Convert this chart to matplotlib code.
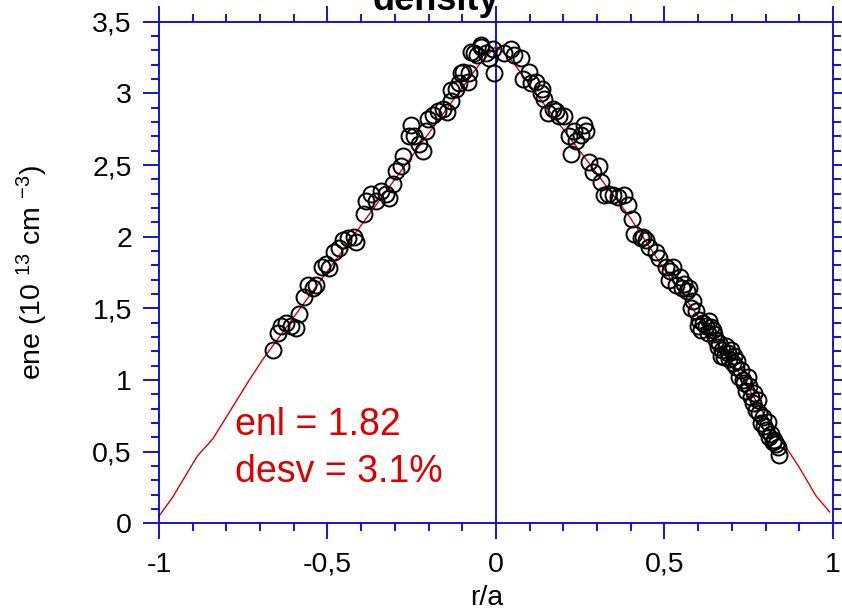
import matplotlib
matplotlib.use('Agg')
import matplotlib.pyplot as plt
from matplotlib.ticker import FixedLocator, FixedFormatter, MultipleLocator

plt.rcParams['font.family'] = ['Liberation Sans', 'DejaVu Sans']
plt.rcParams['mathtext.fontset'] = 'custom'
plt.rcParams['mathtext.rm'] = 'Liberation Sans'
plt.rcParams['mathtext.it'] = 'Liberation Sans:italic'
plt.rcParams['mathtext.default'] = 'regular'

# ---- data ----
left_r = [-0.663, -0.648, -0.638, -0.623, -0.608, -0.593, -0.584, -0.569, -0.559, -0.544,
          -0.534, -0.515, -0.504, -0.495, -0.480, -0.465, -0.455, -0.440, -0.420, -0.415,
          -0.391, -0.386, -0.371, -0.356, -0.341, -0.326, -0.317, -0.307, -0.297, -0.282,
          -0.277, -0.257, -0.252, -0.242, -0.228, -0.218, -0.208, -0.203, -0.188, -0.173,
          -0.158, -0.144, -0.134, -0.134, -0.119, -0.109, -0.104, -0.084, -0.079, -0.064,
          -0.045, -0.030, -0.020, -0.005, -0.010, -0.074, -0.099, -0.045, -0.055]
left_n = [1.21, 1.325, 1.38, 1.395, 1.38, 1.36, 1.46, 1.58, 1.66, 1.64,
          1.66, 1.79, 1.81, 1.78, 1.89, 1.92, 1.98, 1.99, 2.00, 1.96,
          2.16, 2.25, 2.30, 2.25, 2.32, 2.30, 2.27, 2.37, 2.46, 2.49,
          2.56, 2.70, 2.78, 2.70, 2.65, 2.60, 2.74, 2.82, 2.85, 2.88,
          2.89, 2.87, 2.95, 3.02, 3.03, 3.07, 3.14, 3.08, 3.14, 3.28,
          3.32, 3.28, 3.25, 3.14, 3.31, 3.29, 3.15, 3.34, 3.27]

right_r = [0.025, 0.045, 0.054, 0.074, 0.079, 0.099, 0.104, 0.119, 0.134, 0.138,
           0.143, 0.153, 0.168, 0.178, 0.188, 0.203, 0.218, 0.223, 0.232, 0.237,
           0.252, 0.262, 0.267, 0.277, 0.287, 0.307, 0.312, 0.321, 0.331, 0.346,
           0.361, 0.381, 0.391, 0.405, 0.410, 0.430, 0.435, 0.445, 0.455, 0.475,
           0.485, 0.504, 0.514, 0.524, 0.534, 0.559, 0.574, 0.579, 0.593, 0.598,
           0.608, 0.623, 0.638, 0.648, 0.658, 0.672, 0.687, 0.697, 0.702, 0.712,
           0.722, 0.737, 0.747, 0.742, 0.757, 0.766, 0.772, 0.781, 0.786, 0.801,
           0.811, 0.826, 0.836, 0.841,
           0.515, 0.545, 0.553, 0.566, 0.585, 0.603, 0.615, 0.628, 0.633, 0.643,
           0.652, 0.662, 0.668, 0.678, 0.683, 0.692, 0.706, 0.716, 0.727, 0.732,
           0.752, 0.762, 0.776, 0.792, 0.796, 0.806, 0.816, 0.831, 0.821]
right_n = [3.28, 3.31, 3.27, 3.25, 3.10, 3.15, 3.07, 3.08, 3.00, 3.03,
           2.96, 2.86, 2.89, 2.88, 2.84, 2.84, 2.70, 2.58, 2.74, 2.67,
           2.71, 2.78, 2.74, 2.52, 2.45, 2.49, 2.38, 2.29, 2.30, 2.29,
           2.28, 2.29, 2.22, 2.12, 2.02, 1.99, 2.00, 1.98, 1.93, 1.89,
           1.85, 1.79, 1.70, 1.79, 1.66, 1.67, 1.64, 1.50, 1.48, 1.38,
           1.35, 1.38, 1.37, 1.32, 1.23, 1.21, 1.19, 1.21, 1.12, 1.09,
           1.02, 0.98, 1.02, 0.92, 0.88, 0.91, 0.79, 0.77, 0.70, 0.65,
           0.60, 0.58, 0.53, 0.48,
           1.76, 1.72, 1.64, 1.62, 1.55, 1.42, 1.40, 1.33, 1.41, 1.35,
           1.28, 1.26, 1.17, 1.16, 1.24, 1.15, 1.17, 1.13, 1.07, 1.00,
           0.96, 0.84, 0.86, 0.74, 0.68, 0.71, 0.62, 0.55, 0.57]

fit_r = [-1.0, -0.96, -0.886, -0.84, -0.732, -0.693, -0.5, -0.3, -0.15, -0.05, 0.0,
         0.04, 0.128, 0.277, 0.396, 0.514, 0.623, 0.722, 0.811, 0.846, 0.861, 0.90, 0.95, 0.99]
fit_n = [0.05, 0.18, 0.47, 0.59, 1.0, 1.14, 1.76, 2.40, 2.88, 3.20, 3.33,
         3.25, 2.97, 2.51, 2.14, 1.72, 1.37, 1.05, 0.70, 0.58, 0.53, 0.39, 0.19, 0.08]

x_ticks = [-1, -0.5, 0, 0.5, 1]
x_tick_labels = ['-1', '-0,5', '0', '0,5', '1']
y_ticks = [0, 0.5, 1, 1.5, 2, 2.5, 3, 3.5]
y_tick_labels = ['0', '0,5', '1', '1,5', '2', '2,5', '3', '3,5']

title_text = 'density'
xlabel_text = 'r/a'
ylabel_text = r'ene (10 $^{13}$ cm $^{-3}$)'
note1 = 'enl = 1.82'
note2 = 'desv = 3.1%'

BLUE = '#0000dd'
RED = '#dd0000'

fig = plt.figure(figsize=(8.42, 6.13), dpi=100)
ax = fig.add_axes([0.1888, 0.1463, 0.8005, 0.8183])

ax.plot(fit_r, fit_n, color=RED, lw=1.0, zorder=2)
ax.plot(left_r + right_r, left_n + right_n, ls='none', marker='o', ms=11.5,
        mfc='none', mec='black', mew=1.4, zorder=3)
ax.axvline(0, color=BLUE, lw=1.3, zorder=1)

ax.set_xlim(-1, 1)
ax.set_ylim(0, 3.5)

ax.xaxis.set_major_locator(FixedLocator(x_ticks))
ax.xaxis.set_major_formatter(FixedFormatter(x_tick_labels))
ax.yaxis.set_major_locator(FixedLocator(y_ticks))
ax.yaxis.set_major_formatter(FixedFormatter(y_tick_labels))
ax.xaxis.set_minor_locator(MultipleLocator(0.1))
ax.yaxis.set_minor_locator(MultipleLocator(0.1))

for s in ax.spines.values():
    s.set_color(BLUE)
    s.set_linewidth(1.3)

ax.tick_params(which='both', direction='out', color=BLUE, width=1.3,
               top=True, right=True, labeltop=False, labelright=False,
               labelsize=20.5, labelcolor='black')
ax.tick_params(which='major', length=11.5)
ax.tick_params(which='minor', length=5.8)
ax.tick_params(axis='x', which='major', pad=9)
ax.tick_params(axis='y', which='major', pad=8)

ax.text(-0.774, 0.616, note1, color=RED, fontsize=27, ha='left', va='baseline')
ax.text(-0.774, 0.288, note2, color=RED, fontsize=27, ha='left', va='baseline')

fig.text(436 / 842, 1 - 10 / 613, title_text, fontsize=26, fontweight='bold',
         ha='center', va='baseline')
fig.text(487 / 842, 1 - 605 / 613, xlabel_text, fontsize=20.5, ha='center', va='baseline')
fig.text(32 / 842, 1 - 272 / 613, ylabel_text, fontsize=20.5, rotation=90,
         ha='center', va='center')

fig.savefig('out.png', dpi=100)
